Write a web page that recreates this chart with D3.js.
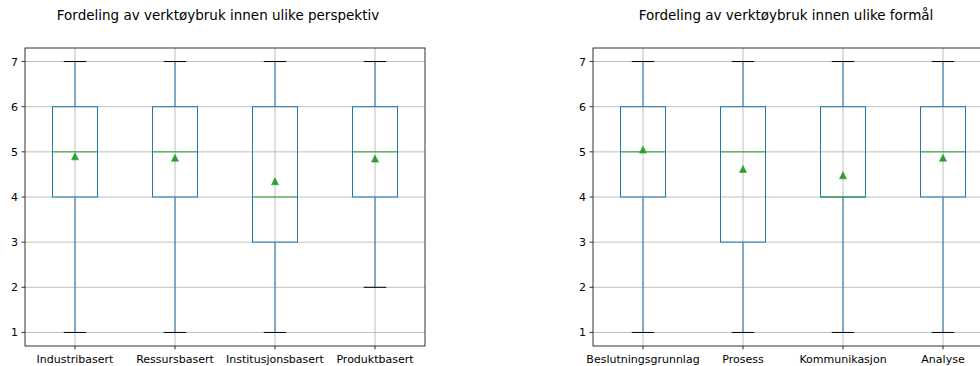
<!DOCTYPE html>
<html><head><meta charset="utf-8">
<script src="https://cdn.jsdelivr.net/npm/d3@7"></script>
<style>body{margin:0;background:#fff}svg{display:block}text{font-family:"DejaVu Sans",sans-serif;fill:#000}</style>
</head><body><svg id="c" width="980" height="366"></svg>
<script>
const titleLeft = "Fordeling av verktøybruk innen ulike perspektiv";
const titleRight = "Fordeling av verktøybruk innen ulike formål";
const catsLeft = ["Industribasert","Ressursbasert","Institusjonsbasert","Produktbasert"];
const lowLeft  = [1,1,1,2];
const q1Left   = [4,4,3,4];
const medLeft  = [5,5,4,5];
const q3Left   = [6,6,6,6];
const highLeft = [7,7,7,7];
const meanLeft = [4.9,4.87,4.35,4.85];
const catsRight = ["Beslutningsgrunnlag","Prosess","Kommunikasjon","Analyse"];
const lowRight  = [1,1,1,1];
const q1Right   = [4,3,4,4];
const medRight  = [5,5,4,5];
const q3Right   = [6,6,6,6];
const highRight = [7,7,7,7];
const meanRight = [5.05,4.62,4.48,4.87];
const yTicks = [1,2,3,4,5,6,7];

const svg = d3.select("#c");
function panel(x0, title, titleX, cats, low, q1, med, q3, high, mean){
  const W = 400, top = 48, bottom = 346;
  const x = d3.scaleLinear().domain([0.5,4.5]).range([x0, x0+W]);
  const y = d3.scaleLinear().domain([0.7,7.3]).range([bottom, top]);
  const g = svg.append("g");
  g.selectAll(".gy").data(yTicks).join("line")
    .attr("x1",x0).attr("x2",x0+W).attr("y1",d=>y(d)).attr("y2",d=>y(d))
    .attr("stroke","#b0b0b0").attr("stroke-width",0.8);
  g.selectAll(".gx").data(cats).join("line")
    .attr("x1",(d,i)=>x(i+1)).attr("x2",(d,i)=>x(i+1)).attr("y1",top).attr("y2",bottom)
    .attr("stroke","#b0b0b0").attr("stroke-width",0.8);
  const bw = 0.225, cw = 0.1125;
  cats.forEach((c,i)=>{
    const p = i+1;
    g.append("line").attr("x1",x(p)).attr("x2",x(p)).attr("y1",y(q1[i])).attr("y2",y(low[i])).attr("stroke","#1f77b4").attr("stroke-width",1);
    g.append("line").attr("x1",x(p)).attr("x2",x(p)).attr("y1",y(q3[i])).attr("y2",y(high[i])).attr("stroke","#1f77b4").attr("stroke-width",1);
    [low[i],high[i]].forEach(v=>g.append("line").attr("x1",x(p-cw)).attr("x2",x(p+cw)).attr("y1",y(v)).attr("y2",y(v)).attr("stroke","#000").attr("stroke-width",1));
    g.append("rect").attr("x",x(p-bw)).attr("y",y(q3[i])).attr("width",x(p+bw)-x(p-bw)).attr("height",y(q1[i])-y(q3[i]))
      .attr("fill","none").attr("stroke","#1f77b4").attr("stroke-width",1);
    g.append("line").attr("x1",x(p-bw)).attr("x2",x(p+bw)).attr("y1",y(med[i])).attr("y2",y(med[i])).attr("stroke","#2ca02c").attr("stroke-width",1);
    const mx = x(p), my = y(mean[i]);
    g.append("path").attr("d",`M${mx},${my-3.5}L${mx+3.5},${my+3.5}L${mx-3.5},${my+3.5}Z`).attr("fill","#2ca02c").attr("stroke","#2ca02c").attr("stroke-width",0.6);
  });
  g.append("rect").attr("x",x0).attr("y",top).attr("width",W).attr("height",bottom-top).attr("fill","none").attr("stroke","#000").attr("stroke-width",0.8);
  g.selectAll(".ty").data(yTicks).join("line").attr("x1",x0-3.5).attr("x2",x0).attr("y1",d=>y(d)).attr("y2",d=>y(d)).attr("stroke","#000").attr("stroke-width",0.8);
  g.selectAll(".tyl").data(yTicks).join("text").attr("x",x0-7).attr("y",d=>y(d)).attr("dy","0.36em").attr("text-anchor","end").attr("font-size",11).text(d=>d);
  g.selectAll(".tx").data(cats).join("line").attr("x1",(d,i)=>x(i+1)).attr("x2",(d,i)=>x(i+1)).attr("y1",bottom).attr("y2",bottom+3.5).attr("stroke","#000").attr("stroke-width",0.8);
  g.selectAll(".txl").data(cats).join("text").attr("x",(d,i)=>x(i+1)).attr("y",bottom+17).attr("text-anchor","middle").attr("font-size",11).text(d=>d);
  svg.append("text").attr("x",titleX).attr("y",20).attr("text-anchor","middle").attr("font-size",13.5).text(title);
}
panel(25, titleLeft, 218, catsLeft, lowLeft, q1Left, medLeft, q3Left, highLeft, meanLeft);
panel(593, titleRight, 786, catsRight, lowRight, q1Right, medRight, q3Right, highRight, meanRight);
</script></body></html>
